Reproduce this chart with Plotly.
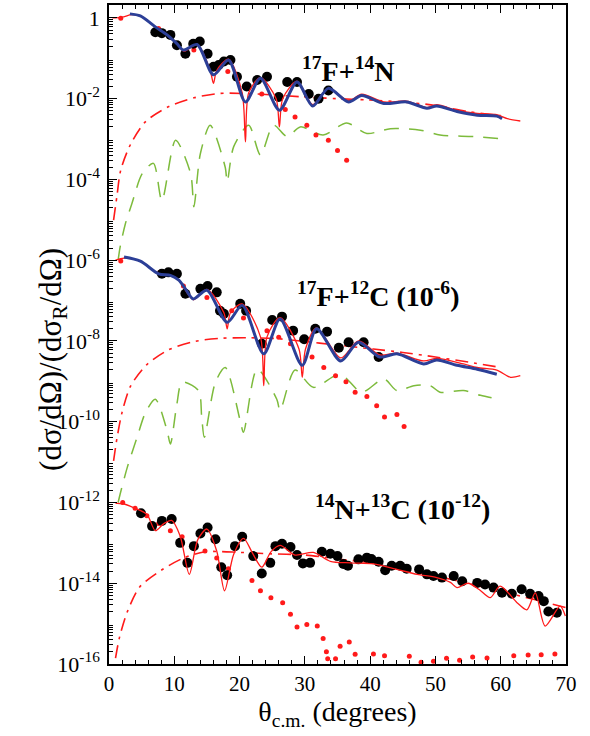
import numpy as np
import plotly.graph_objects as go

# ---- 17F + 14N (no scaling) ----
f14n_exp_x = [7.1, 8.1, 9.4, 10.4, 11.7, 12.9, 13.9, 15.1, 16.0, 16.8, 17.6, 18.6, 19.6, 21.1, 22.7,
              24.2, 26.0, 27.3, 28.8, 30.6, 32.1, 33.6]
f14n_exp_y = [0.44, 0.42, 0.38, 0.21, 0.13, 0.23, 0.26, 0.13, 0.062, 0.068, 0.083, 0.091, 0.035, 0.020,
              0.029, 0.035, 0.011, 0.026, 0.026, 0.013, 0.010, 0.016]

f14n_blue_x = [3.2, 4.8, 7.1, 8.9, 10.4, 11.4, 13.5, 16.0, 18.3, 20.9, 23.2, 26.1, 28.8, 31.2, 33.6,
               36.7, 38.7, 42.1, 45.6, 48.7, 50.2, 53.3, 56.4, 59.4, 60.2]
f14n_blue_y = [1.26, 1.12, 0.60, 0.38, 0.23, 0.16, 0.22, 0.039, 0.091, 8.3e-3, 0.032, 5.2e-3, 0.026,
               6.6e-3, 0.018, 8.3e-3, 0.012, 7.6e-3, 8.3e-3, 5.8e-3, 6.6e-3, 4.8e-3, 3.9e-3, 3.7e-3, 3.2e-3]

f14n_full_x = [0.5, 2.0, 3.5, 4.8, 7.1, 8.9, 10.4, 11.5, 13.5, 15.5, 16.0, 16.5, 18.3, 20.4, 20.9, 21.4,
               23.2, 25.6, 26.1, 26.6, 28.8, 31.2, 33.6, 36.7, 38.7, 42.1, 45.6, 48.7, 50.2, 53.3, 56.4,
               59.4, 61.0, 63.0]
f14n_full_y = [1.0, 1.05, 1.2, 1.12, 0.60, 0.38, 0.23, 0.15, 0.22, 0.05, 0.024, 0.05, 0.095, 0.014,
               8.5e-4, 0.014, 0.033, 0.01, 2.0e-3, 0.01, 0.027, 7.1e-3, 0.018, 8.9e-3, 0.013, 8.3e-3,
               8.7e-3, 6.0e-3, 7.1e-3, 5.1e-3, 4.3e-3, 4.0e-3, 3.2e-3, 2.8e-3]

f14n_near_x = [1.8, 7.6, 13.0, 18.2, 23.4, 27.0, 28.5, 30.3, 31.7, 33.6, 35.0, 36.4]
f14n_near_y = [0.98, 0.55, 0.16, 0.047, 0.013, 5.4e-3, 3.5e-3, 2.2e-3, 1.26e-3, 9.3e-4, 5.2e-4, 3.0e-4]

f14n_far_x = [0.7, 1.2, 1.8, 3.3, 5.6, 9.1, 13.0, 17.0, 23.4, 29.3, 35.0, 39.5, 45.0, 50.0, 55.0, 60.0]
f14n_far_y = [9.8e-6, 3.7e-5, 1.7e-4, 7.4e-4, 2.7e-3, 6.3e-3, 0.0105, 0.0135, 0.0129, 0.0112, 0.010,
              9.3e-3, 8.3e-3, 6.8e-3, 4.8e-3, 3.8e-3]

f14n_green_x = [1.4, 1.7, 2.5, 3.5, 5.1, 6.8, 8.1, 10.2, 12.5, 13.0, 14.0, 15.5, 17.8, 18.1, 19.1, 21.4,
                23.2, 25.2, 27.3, 29.3, 32.8, 36.4, 39.5, 43.1, 47.7, 50.7, 55.8, 59.9]
f14n_green_y = [1.0e-6, 2.1e-6, 7.9e-6, 2.5e-5, 1.4e-4, 2.5e-4, 3.0e-5, 9.3e-4, 1.4e-4, 2.1e-5, 4.4e-4,
                2.2e-3, 2.0e-4, 8.7e-5, 6.5e-4, 2.2e-3, 4.0e-4, 2.2e-3, 1.15e-3, 2.0e-3, 1.26e-3,
                2.5e-3, 1.38e-3, 1.8e-3, 1.66e-3, 1.26e-3, 1.15e-3, 1.02e-3]

# ---- 17F + 12C (x 1e-6) ----
f12c_exp_x = [8.1, 9.1, 10.4, 11.7, 14.0, 15.1, 16.5, 17.0, 17.6, 20.1, 21.0, 23.4, 25.0, 26.5, 28.2,
              29.9, 31.6, 33.4, 35.2, 36.7, 39.0, 41.3]
f12c_exp_y = [0.46, 0.50, 0.46, 0.148, 0.195, 0.23, 0.16, 0.056, 0.047, 0.083, 0.056, 8.5e-3, 0.033,
              0.040, 0.018, 0.011, 0.020, 0.017, 6.8e-3, 9.3e-3, 9.3e-3, 4.0e-3]

f12c_blue_x = [2.3, 4.8, 7.6, 9.4, 10.7, 11.7, 12.9, 15.0, 18.1, 20.4, 23.7, 26.2, 29.6, 31.8, 35.5,
               38.2, 41.5, 44.1, 48.2, 50.2, 53.3, 56.4, 59.4]
f12c_blue_y = [1.2, 0.95, 0.46, 0.42, 0.32, 0.195, 0.11, 0.18, 0.029, 0.076, 4.8e-3, 0.035, 2.5e-3,
               0.020, 3.2e-3, 9.3e-3, 4.0e-3, 4.8e-3, 2.7e-3, 3.4e-3, 2.5e-3, 2.0e-3, 1.5e-3]

f12c_full_x = [1.0, 2.3, 4.8, 7.6, 9.4, 10.7, 12.9, 15.0, 17.6, 18.1, 18.6, 20.4, 23.2, 23.7, 24.2,
               26.2, 29.1, 29.6, 30.1, 31.8, 35.5, 38.2, 41.5, 44.1, 48.2, 50.2, 54.3, 56.4, 59.4,
               61.5, 63.0]
f12c_full_y = [1.0, 1.12, 0.95, 0.46, 0.42, 0.32, 0.105, 0.19, 0.05, 0.020, 0.05, 0.083, 0.0126,
               7.8e-4, 0.0126, 0.038, 6.3e-3, 1.26e-3, 6.3e-3, 0.021, 3.8e-3, 0.010, 4.5e-3, 5.0e-3,
               3.2e-3, 3.7e-3, 2.7e-3, 2.2e-3, 1.9e-3, 1.26e-3, 1.38e-3]

f12c_near_x = [1.8, 7.8, 11.4, 15.0, 18.8, 20.6, 24.2, 26.0, 27.8, 31.1, 32.9, 34.7, 36.3, 37.7, 39.5,
               41.0, 42.2, 44.1, 45.2]
f12c_near_y = [0.95, 0.50, 0.23, 0.12, 0.056, 0.037, 0.018, 0.0123, 8.5e-3, 4.0e-3, 2.2e-3, 1.38e-3,
               9.8e-4, 5.4e-4, 4.2e-4, 2.5e-4, 1.3e-4, 1.5e-4, 7.6e-5]

f12c_far_x = [0.7, 1.2, 2.0, 3.3, 5.8, 9.1, 13.2, 17.3, 21.4, 25.5, 29.3, 35.0, 40.5, 45.0, 50.0, 55.0,
              60.0]
f12c_far_y = [1.07e-5, 3.7e-5, 1.7e-4, 7.6e-4, 2.6e-3, 6.0e-3, 9.8e-3, 0.0117, 0.012, 0.0115, 0.010,
              7.9e-3, 6.3e-3, 5.2e-3, 4.0e-3, 3.0e-3, 2.2e-3]

f12c_green_x = [1.4, 1.7, 2.8, 4.3, 5.6, 7.1, 8.9, 9.4, 10.4, 11.2, 13.7, 14.2, 14.6, 16.3, 17.8, 20.1,
                20.6, 22.7, 25.7, 26.2, 28.5, 31.3, 35.4, 38.7, 42.1, 44.1, 46.7, 49.2, 50.7, 54.3,
                56.9, 58.6]
f12c_green_y = [1.0e-6, 1.6e-6, 7.4e-6, 4.1e-5, 1.7e-4, 3.6e-4, 6.0e-5, 2.8e-5, 2.75e-4, 9.5e-4, 5.9e-4,
                1.3e-4, 4.1e-5, 9.5e-4, 2.2e-3, 1.05e-4, 5.5e-5, 2.0e-3, 3.6e-4, 1.9e-4, 1.9e-3,
                7.1e-4, 1.5e-3, 5.4e-4, 1.15e-3, 5.9e-4, 7.8e-4, 7.8e-4, 5.4e-4, 5.9e-4, 4.5e-4, 3.9e-4]

# ---- 14N + 13C (x 1e-12) ----
n13c_exp_x = [4.9, 6.6, 8.1, 9.6, 10.9, 12.0, 13.0, 14.0, 15.1, 16.3, 17.2, 18.1, 19.3, 20.4, 22.1,
              23.4, 24.7, 25.5, 26.5, 27.8, 28.8, 29.7, 30.8, 32.6, 33.9, 35.0, 35.9, 36.6, 38.2,
              39.5, 40.2, 41.3, 42.3, 43.3, 44.6, 45.6, 47.5, 48.7, 49.7, 51.0, 52.8, 54.1, 56.4,
              57.6, 58.9, 60.2, 61.7, 63.2, 64.5, 65.8, 66.6, 67.3, 68.6]
n13c_exp_y = [0.54, 0.26, 0.35, 0.39, 0.10, 0.032, 0.083, 0.17, 0.24, 0.123, 0.025, 0.0158, 0.083,
              0.141, 0.047, 0.0174, 0.032, 0.083, 0.095, 0.079, 0.050, 0.031, 0.032, 0.060, 0.054,
              0.047, 0.030, 0.027, 0.039, 0.043, 0.040, 0.034, 0.021, 0.027, 0.027, 0.023, 0.022,
              0.0166, 0.0151, 0.0138, 0.0151, 0.0112, 0.0102, 9.3e-3, 7.8e-3, 5.8e-3, 5.5e-3,
              7.1e-3, 5.5e-3, 4.8e-3, 3.6e-3, 2.0e-3, 1.86e-3]

n13c_full_x = [1.0, 2.2, 3.8, 5.8, 7.1, 8.4, 9.6, 10.9, 12.3, 13.6, 15.0, 16.5, 17.7, 19.1, 20.6, 22.0,
               23.4, 24.8, 26.2, 28.5, 31.3, 33.9, 37.0, 40.5, 44.1, 47.2, 50.2, 52.3, 53.3, 55.0,
               56.7, 58.4, 59.9, 62.5, 64.0, 65.3, 66.8, 69.1, 69.9]
n13c_full_y = [0.95, 0.93, 0.74, 0.51, 0.20, 0.30, 0.36, 0.148, 0.0166, 0.12, 0.22, 0.063, 6.5e-3,
               0.052, 0.129, 0.055, 0.025, 0.06, 0.087, 0.050, 0.058, 0.035, 0.032, 0.030, 0.022,
               0.0166, 0.0138, 0.0105, 7.8e-3, 0.010, 7.0e-3, 4.4e-3, 8.5e-3, 3.3e-3, 2.2e-3,
               5.8e-3, 8.7e-4, 2.7e-3, 1.55e-3]

n13c_near_x = [2.1, 4.0, 5.8, 7.6, 9.4, 11.2, 13.0, 14.7, 16.5, 18.3, 21.9, 23.2, 24.8, 26.6, 27.8,
               28.8, 30.3, 31.9, 32.8, 33.3, 33.5, 34.7, 35.4, 36.8, 37.7, 39.9, 40.5, 42.2, 44.5,
               46.0, 47.8, 49.7, 51.7, 53.7, 55.7, 57.9, 62.0, 64.2, 66.2, 68.3]
n13c_near_y = [1.0, 0.72, 0.47, 0.30, 0.20, 0.141, 0.091, 0.063, 0.042, 0.023, 0.0117, 6.5e-3, 4.4e-3,
               3.3e-3, 1.7e-3, 8.3e-4, 9.5e-4, 8.7e-4, 4.3e-4, 2.0e-4, 1.35e-4, 1.35e-4, 2.75e-4,
               3.5e-4, 1.74e-4, 8.5e-5, 1.78e-4, 1.6e-4, 8.7e-5, 1.55e-4, 1.1e-4, 1.17e-4, 1.38e-4,
               1.23e-4, 1.48e-4, 1.41e-4, 1.6e-4, 1.66e-4, 1.7e-4, 1.78e-4]

n13c_far_x = [1.0, 1.6, 2.8, 4.7, 8.0, 11.4, 14.7, 20.1, 24.2, 30.0, 35.0, 40.0, 45.0, 50.0, 55.0,
              60.0, 65.0, 70.0]
n13c_far_y = [1.4e-4, 4.5e-4, 1.95e-3, 8.1e-3, 0.021, 0.042, 0.060, 0.058, 0.054, 0.050, 0.040,
              0.032, 0.022, 0.0151, 0.010, 6.3e-3, 4.0e-3, 2.5e-3]

SERIF = 'Liberation Serif, Times New Roman, Times, serif'
RED = '#ff1a1a'
BLUE = '#2c3f97'
GREEN = '#7dbb3c'


def add_panel(fig, scale, exp_x, exp_y, full_x, full_y, near_x, near_y, far_x, far_y,
              green_x=None, green_y=None, blue_x=None, blue_y=None):
    s = scale
    if green_x is not None:
        fig.add_trace(go.Scatter(
            x=green_x, y=np.array(green_y) * s, mode='lines',
            line={'color': GREEN, 'width': 1.5, 'dash': '15px,10px', 'shape': 'spline', 'smoothing': 0.8},
        ))
    fig.add_trace(go.Scatter(
        x=far_x, y=np.array(far_y) * s, mode='lines',
        line={'color': RED, 'width': 1.6, 'dash': '13px,6px,3px,6px', 'shape': 'spline', 'smoothing': 0.8},
    ))
    fig.add_trace(go.Scatter(
        x=near_x, y=np.array(near_y) * s, mode='markers',
        marker={'color': RED, 'size': 5},
    ))
    fig.add_trace(go.Scatter(
        x=exp_x, y=np.array(exp_y) * s, mode='markers',
        marker={'color': 'black', 'size': 10},
    ))
    fig.add_trace(go.Scatter(
        x=full_x, y=np.array(full_y) * s, mode='lines',
        line={'color': RED, 'width': 1.3, 'shape': 'spline', 'smoothing': 0.8},
    ))
    if blue_x is not None:
        fig.add_trace(go.Scatter(
            x=blue_x, y=np.array(blue_y) * s, mode='lines',
            line={'color': BLUE, 'width': 3, 'shape': 'spline', 'smoothing': 0.8},
        ))


fig = go.Figure()
add_panel(fig, 1.0, f14n_exp_x, f14n_exp_y, f14n_full_x, f14n_full_y, f14n_near_x, f14n_near_y,
          f14n_far_x, f14n_far_y, f14n_green_x, f14n_green_y, f14n_blue_x, f14n_blue_y)
add_panel(fig, 1e-6, f12c_exp_x, f12c_exp_y, f12c_full_x, f12c_full_y, f12c_near_x, f12c_near_y,
          f12c_far_x, f12c_far_y, f12c_green_x, f12c_green_y, f12c_blue_x, f12c_blue_y)
add_panel(fig, 1e-12, n13c_exp_x, n13c_exp_y, n13c_full_x, n13c_full_y, n13c_near_x, n13c_near_y,
          n13c_far_x, n13c_far_y)

# y ticks: labels every second decade; the other decades get a long tick drawn as a short line
even_decades = list(range(-16, 1, 2))
odd_decades = list(range(-15, 0, 2))
y_tickvals = [10.0 ** d for d in even_decades]
y_ticktext = ['1' if d == 0 else '10<sup>%d</sup>' % d for d in even_decades]
y_minor = [k * 10.0 ** d for d in range(-16, 1) for k in range(2, 10)]
for d in odd_decades:
    fig.add_shape(type='line', xref='x domain', yref='y', x0=0, x1=8 / 457, y0=d, y1=d,
                  line={'color': 'black', 'width': 1.2})

labels = [
    ('<b><sup>17</sup>F+<sup>14</sup>N</b>', 0.523, 0.932),
    ('<b><sup>17</sup>F+<sup>12</sup>C (10<sup>-6</sup>)</b>', 0.588, 0.56),
    ('<b><sup>14</sup>N+<sup>13</sup>C (10<sup>-12</sup>)</b>', 0.642, 0.208),
]
for text, ax, ay in labels:
    fig.add_annotation(text=text, x=ax, y=ay, xref='paper', yref='paper', showarrow=False,
                       font={'family': SERIF, 'size': 28, 'color': 'black'})

# y axis title, placed like in the original figure
fig.add_annotation(text='(dσ/dΩ)/(dσ<sub>R</sub>/dΩ)', x=-0.172, y=0.462, xref='paper', yref='paper',
                   textangle=-90, showarrow=False, font={'family': SERIF, 'size': 31, 'color': 'black'})

fig.update_layout(
    width=590, height=736,
    margin={'l': 109, 'r': 24, 't': 5, 'b': 72},
    plot_bgcolor='white', paper_bgcolor='white',
    showlegend=False,
    font={'family': SERIF, 'color': 'black'},
)
fig.update_xaxes(
    range=[0, 70], dtick=10, tick0=0, automargin=False,
    ticks='inside', ticklen=8, tickwidth=1.2, tickcolor='black',
    minor={'dtick': 2, 'ticks': 'inside', 'ticklen': 4, 'tickcolor': 'black', 'showgrid': False},
    showline=True, linecolor='black', linewidth=1.5, mirror='ticks',
    showgrid=False, zeroline=False,
    tickfont={'family': SERIF, 'size': 21},
    title={'text': 'θ<sub>c.m.</sub> (degrees)', 'font': {'family': SERIF, 'size': 28}, 'standoff': 4},
)
fig.update_yaxes(
    type='log', range=[-16, 0.32], automargin=False,
    tickmode='array', tickvals=y_tickvals, ticktext=y_ticktext,
    ticks='inside', ticklen=8, tickwidth=1.2, tickcolor='black',
    minor={'tickmode': 'array', 'tickvals': y_minor, 'ticks': 'inside', 'ticklen': 4,
           'tickcolor': 'black', 'showgrid': False},
    showline=True, linecolor='black', linewidth=1.5, mirror=True,
    showgrid=False, zeroline=False, ticklabelstandoff=3,
    tickfont={'family': SERIF, 'size': 22},
)

fig.write_html('out.html', config={'displayModeBar': False},
               post_script="document.body.style.margin='0px';")
